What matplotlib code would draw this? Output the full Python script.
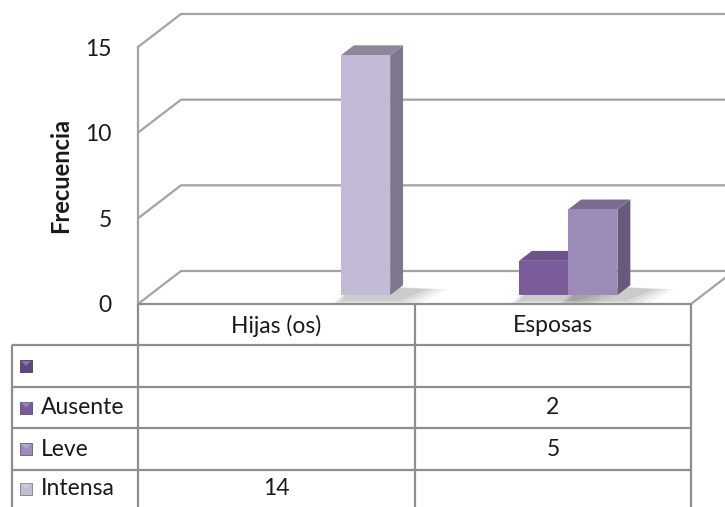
import matplotlib
matplotlib.use("Agg")
import matplotlib.pyplot as plt
from matplotlib.patches import Polygon, Rectangle

# ---- data -------------------------------------------------------------
categories = ["Hijas (os)", "Esposas"]
series_names = ["", "Ausente", "Leve", "Intensa"]
values = {
    "": [None, None],
    "Ausente": [None, 2],
    "Leve": [None, 5],
    "Intensa": [14, None],
}
y_ticks = [0, 5, 10, 15]
y_label = "Frecuencia"

# ---- styles -----------------------------------------------------------
front_colors = {"": "#5C4781", "Ausente": "#7A5C9B", "Leve": "#9C8AB8", "Intensa": "#C3BBD6"}
side_colors = {"": "#4A3868", "Ausente": "#5E4878", "Leve": "#675A7B", "Intensa": "#7E778E"}
top_colors = {"": "#534073", "Ausente": "#6B5489", "Leve": "#7B6D91", "Intensa": "#8D879C"}
grid_color = "#A3A3A3"
table_color = "#8E8E8E"
text_color = "#1A1A1A"

plt.rcParams["font.family"] = ["Lato", "DejaVu Sans"]

W, H = 725, 507
fig = plt.figure(figsize=(W / 100, H / 100), dpi=100)
fig.patch.set_facecolor("white")

# front plane of the plot box, in pixels
PX_L, PX_R, PX_TOP, PX_BOT = 138, 691, 47, 304
ax = fig.add_axes([PX_L / W, (H - PX_BOT) / H, (PX_R - PX_L) / W, (PX_BOT - PX_TOP) / H])
n_cat = len(categories)
ymax = y_ticks[-1]
ax.set_xlim(0, n_cat)
ax.set_ylim(0, ymax)
for s in ax.spines.values():
    s.set_visible(False)
ax.set_xticks([])
ax.set_yticks(y_ticks)
ax.set_yticklabels([str(t) for t in y_ticks], fontsize=16.5, color=text_color)
ax.tick_params(axis="y", length=0, pad=19)
ax.set_ylabel(y_label, fontsize=17, fontweight="bold", color=text_color)
ax.yaxis.set_label_coords(-0.119, 0.5)
ax.patch.set_alpha(0)

# oblique depth offset (in data units)
DX = 43 / (PX_R - PX_L) * n_cat
DY = 33 / (PX_BOT - PX_TOP) * ymax
x_far = n_cat + 0.3  # lines run past the right border of the figure

lw = 1.6
# walls: gridlines with their left-wall diagonals
for t in y_ticks:
    ax.plot([0, DX, x_far], [t, t + DY, t + DY], color=grid_color, lw=lw,
            clip_on=False, solid_capstyle="butt", zorder=1)
# left wall front edge
ax.plot([0, 0], [0, ymax], color=grid_color, lw=lw, clip_on=False, zorder=1)
# floor right edge
ax.plot([n_cat, n_cat + DX], [0, DY], color=grid_color, lw=lw, clip_on=False, zorder=1)

# ---- 3D columns -------------------------------------------------------
f0, f1 = 0.27, 0.57        # depth band occupied by the columns
bw = 0.178                 # column width (category units)
shift = 0.014              # cluster offset inside each category
n_ser = len(series_names)
d = f1 - f0

for ci in range(n_cat):
    for si, name in enumerate(series_names):
        v = values[name][ci]
        if v is None:
            continue
        xl = ci + 0.5 + shift - n_ser * bw / 2 + si * bw + f0 * DX
        yb = f0 * DY
        xr = xl + bw
        # soft floor shadow
        for k, a in enumerate([0.05, 0.06, 0.07, 0.09]):
            g = (3 - k) * 0.012
            sh = Polygon([(xl - g, yb - 0.35 - g * 6), (xr + 0.03 + g * 2, yb - 0.35 - g * 6),
                          (xr + d * DX + 0.09 + g * 2, yb + d * DY * 0.6),
                          (xl + d * DX, yb + d * DY)],
                         closed=True, facecolor="#303030", edgecolor="none", alpha=a,
                         clip_on=False, zorder=2)
            ax.add_patch(sh)
        front = Rectangle((xl, yb), bw, v, facecolor=front_colors[name],
                          edgecolor="none", clip_on=False, zorder=3 + si)
        side = Polygon([(xr, yb), (xr + d * DX, yb + d * DY), (xr + d * DX, yb + v + d * DY),
                        (xr, yb + v)], closed=True, facecolor=side_colors[name],
                       edgecolor="none", clip_on=False, zorder=3 + si)
        top = Polygon([(xl, yb + v), (xr, yb + v), (xr + d * DX, yb + v + d * DY),
                       (xl + d * DX, yb + v + d * DY)], closed=True,
                      facecolor=top_colors[name], edgecolor="none", clip_on=False, zorder=3 + si)
        for p in (side, top, front):
            ax.add_patch(p)

# ---- data table -------------------------------------------------------
tab = fig.add_axes([0, 0, 1, 1])
tab.set_xlim(0, W)
tab.set_ylim(H, 0)
tab.axis("off")
tab.patch.set_alpha(0)

col_x = [12, PX_L, 415, PX_R]
row_y = [PX_BOT, 345, 387, 428, 470, H + 20]
tkw = dict(color=table_color, lw=lw, solid_capstyle="butt", clip_on=False)
# header row (category names) only spans the data columns
tab.plot([col_x[1], col_x[3]], [row_y[0], row_y[0]], **tkw)
for y in row_y[1:-1]:
    tab.plot([col_x[0], col_x[3]], [y, y], **tkw)
tab.plot([col_x[0], col_x[0]], [row_y[1], row_y[-1]], **tkw)
for x in col_x[1:]:
    tab.plot([x, x], [row_y[0], row_y[-1]], **tkw)

fs = 16.5
for ci, cat in enumerate(categories):
    cx = (col_x[ci + 1] + col_x[ci + 2]) / 2
    tab.text(cx, (row_y[0] + row_y[1]) / 2 + 1, cat, ha="center", va="center",
             fontsize=fs, color=text_color)

for si, name in enumerate(series_names):
    y0, y1 = row_y[si + 1], min(row_y[si + 2], H + 40)
    yc = (y0 + y1) / 2 if si < n_ser - 1 else (y0 + 37 + y0) / 2
    # legend key
    ks = 12
    tab.add_patch(Rectangle((20, yc - ks / 2), ks, ks, facecolor=front_colors[name],
                            edgecolor=side_colors[name], lw=0.6))
    tab.add_patch(Polygon([(21, yc - ks / 2 + 1), (20 + ks - 1, yc - ks / 2 + 1),
                           (20 + ks / 2, yc)], closed=True, facecolor="white",
                          alpha=0.25, edgecolor="none"))
    if name:
        tab.text(41, yc, name, ha="left", va="center", fontsize=fs, color=text_color)
    for ci in range(n_cat):
        v = values[name][ci]
        if v is None:
            continue
        cx = (col_x[ci + 1] + col_x[ci + 2]) / 2
        tab.text(cx, yc, str(v), ha="center", va="center", fontsize=fs, color=text_color)

fig.savefig("out.png", dpi=100, facecolor="white")
